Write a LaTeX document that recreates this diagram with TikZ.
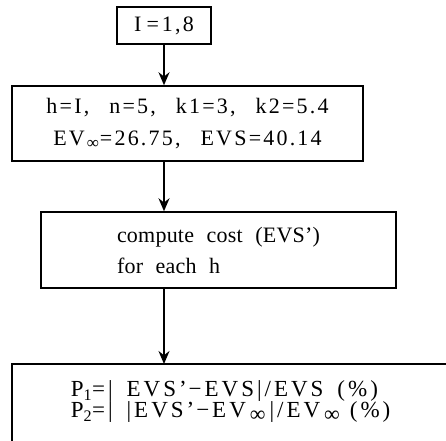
\documentclass[tikz,border=0pt]{standalone}
\usepackage{fontspec}
\setmainfont{Liberation Serif}[LetterSpace=10,WordSpace=2.6]
\newfontfamily\estrecho{Liberation Serif}[LetterSpace=1,WordSpace=2.2]
\newfontfamily\ancho{Liberation Serif}[LetterSpace=13,WordSpace=1.6]
\newcommand{\infa}{\hspace{2pt}\raisebox{-3pt}{\fontsize{17}{17}\selectfont ∞}\hspace{1pt}}
\newcommand{\infb}{\hspace{4pt}\raisebox{-4pt}{\fontsize{22}{22}\selectfont ∞}\hspace{4pt}}
\usetikzlibrary{arrows.meta}
\begin{document}
\begin{tikzpicture}[x=1pt,y=1pt,line width=1.5pt,
  caja/.style={draw,rectangle,inner sep=0pt,align=center,font=\fontsize{22}{32}\selectfont},
  flecha/.style={-{Stealth[length=13pt,width=11pt]},line width=1.3pt}]
  \useasboundingbox (0,0) rectangle (446,-440);
  \clip (0,0) rectangle (446,-440);
  % Datos de entrada
  \node[caja,minimum width=94pt,minimum height=37pt] (ione) at (164,-25.5) {I\hspace{5pt}=\hspace{3pt}1,8};
  \node[caja,minimum width=351pt,minimum height=75pt] (par) at (187.5,-123.5)
    {h=I, n=5, k1=3, k2=5.4\\EV\infa=26.75, EVS=40.14};
  % Calculo del coste
  \node[caja,align=left,minimum width=355pt,minimum height=76pt,font=\estrecho\fontsize{22}{31}\selectfont] (cost) at (218.5,-250)
    {compute cost (EVS’)\\for each h};
  % Resultado (caja cortada)
  \draw (12,-364) rectangle (470,-470);
  \coordinate (restop) at (164,-364);
  \node[anchor=north west,inner sep=0pt,align=left,font=\ancho\fontsize{23}{21}\selectfont] (res) at (70,-380)
    {P\textsubscript{1}=| EVS’\hspace{2pt}−EVS|/EVS (\%)\\P\textsubscript{2}=| |EVS’\hspace{2pt}−EV\infb|/EV\infb\hspace{6pt}(\%)};
  \draw[flecha] (ione.south) -- (ione.south |- par.north);
  \draw[flecha] (ione.south |- par.south) -- (ione.south |- cost.north);
  \draw[flecha] (ione.south |- cost.south) -- (restop);
\end{tikzpicture}
\end{document}
